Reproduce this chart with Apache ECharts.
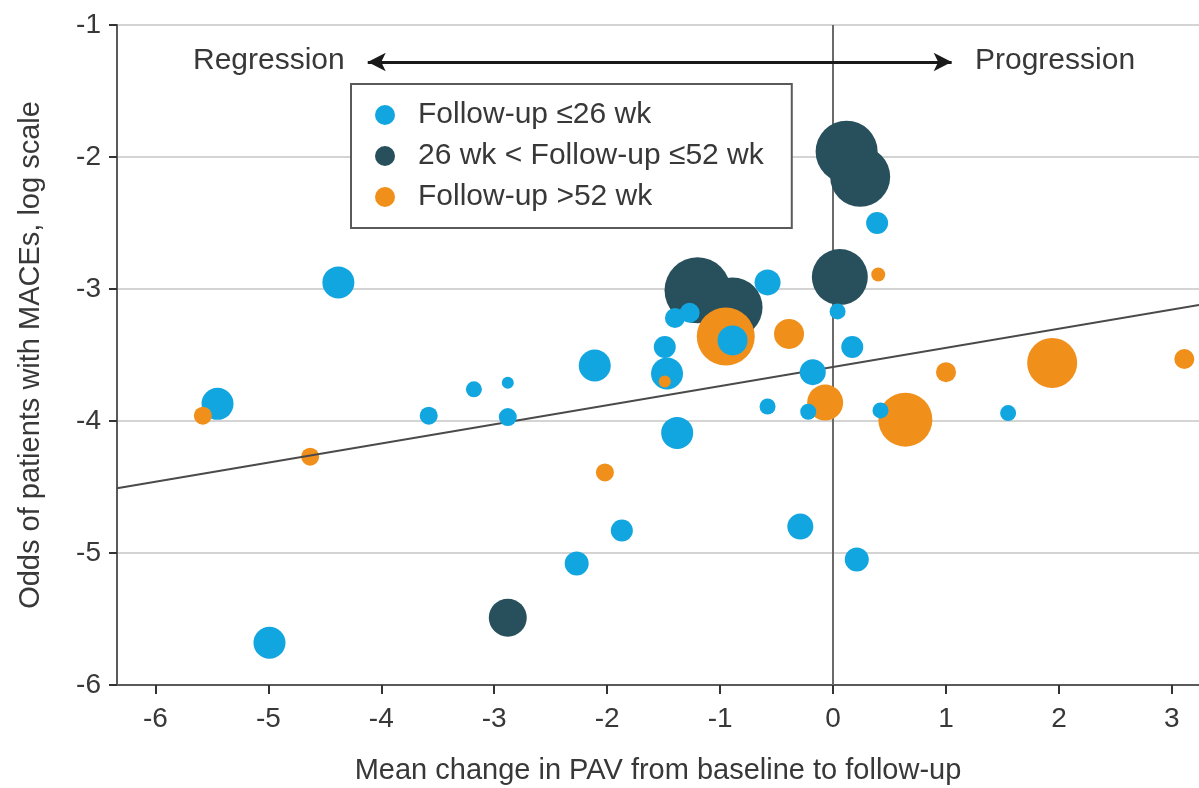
<!DOCTYPE html>
<html>
<head>
<meta charset="utf-8">
<script src="https://cdn.jsdelivr.net/npm/echarts@6/dist/echarts.min.js"></script>
<style>
  html, body { margin: 0; padding: 0; background: #ffffff; }
  #chart { width: 1199px; height: 788px; }
</style>
</head>
<body>
<div id="chart"></div>
<script>
// Each study: [mean change in PAV, log odds of MACE, relative marker size]
const shortFollowUp = [
  [-5.45, -3.87, 16], [-4.38, -2.95, 16], [-3.58, -3.96, 9], [-3.18, -3.76, 8],
  [-2.88, -3.71, 6], [-2.88, -3.97, 9], [-2.11, -3.58, 16], [-1.47, -3.64, 16],
  [-1.49, -3.44, 11], [-1.40, -3.22, 10], [-1.27, -3.18, 10], [-1.38, -4.09, 16],
  [-0.89, -3.39, 15], [-0.58, -2.95, 13], [-0.58, -3.89, 8], [-0.18, -3.63, 13],
  [-0.22, -3.93, 8], [0.04, -3.17, 8], [0.17, -3.44, 11], [0.39, -2.50, 11],
  [0.42, -3.92, 8], [1.55, -3.94, 8], [-1.87, -4.83, 11], [-2.27, -5.08, 12],
  [-4.99, -5.68, 16], [-0.29, -4.80, 13], [0.21, -5.05, 12]
];
const midFollowUp = [
  [-1.20, -3.01, 33], [-0.89, -3.14, 30], [0.12, -1.96, 31], [0.24, -2.15, 30],
  [0.06, -2.91, 28], [-2.88, -5.49, 19]
];
const longFollowUp = [
  [-4.63, -4.27, 9], [-2.02, -4.39, 9], [-0.95, -3.36, 29], [-0.39, -3.34, 15],
  [-0.07, -3.86, 18], [0.40, -2.89, 7], [0.64, -3.99, 27], [1.00, -3.63, 10],
  [1.94, -3.56, 25], [3.11, -3.53, 10]
];
// long follow-up studies that sit in front of the short follow-up markers
const longFollowUpFront = [
  [-5.58, -3.96, 9], [-1.49, -3.70, 6]
];

const seriesNames = ['Follow-up \u226426 wk', '26 wk < Follow-up \u226452 wk', 'Follow-up >52 wk'];
const xTicks = [-6, -5, -4, -3, -2, -1, 0, 1, 2, 3];
const xRange = [-6.34, 3.24];
const yRange = [-6, -1];

// meta-regression fit: log odds = intercept + slope * change in PAV
const fitIntercept = -3.59;
const fitSlope = 0.145;

const colors = { short: '#12a6e0', mid: '#27505c', long: '#f0901b' };
const textColor = '#383838';
const FONT = "'Liberation Sans', Arial, sans-serif";

const chart = echarts.init(document.getElementById('chart'));

const sizeOf = d => d[2] * 2;

function bubbles(name, data, color, z) {
  return {
    name, type: 'scatter', data, z,
    symbolSize: sizeOf,
    itemStyle: { color, opacity: 1 },
    emphasis: { disabled: true }
  };
}

const fitLine = [
  [{ coord: [xRange[0], fitIntercept + fitSlope * xRange[0]] },
   { coord: [xRange[1], fitIntercept + fitSlope * xRange[1]] }]
];

chart.setOption({
  animation: false,
  backgroundColor: '#ffffff',
  textStyle: { fontFamily: FONT, color: textColor },
  grid: { left: 117, right: 0, top: 25, bottom: 103, containLabel: false, outerBoundsMode: 'none' },
  legend: {
    data: seriesNames,
    orient: 'vertical',
    left: 351, top: 84,
    padding: [16, 28, 16, 24],
    itemGap: 11,
    itemWidth: 20, itemHeight: 20,
    icon: 'circle',
    borderColor: '#5a5a5a', borderWidth: 2,
    backgroundColor: '#ffffff',
    textStyle: { fontSize: 30, color: textColor, fontFamily: FONT, padding: [0, 0, 0, 18], lineHeight: 30 },
    selectedMode: false
  },
  xAxis: {
    type: 'value',
    min: xRange[0], max: xRange[1],
    name: 'Mean change in PAV from baseline to follow-up',
    nameLocation: 'middle', nameGap: 71,
    nameTextStyle: { fontSize: 29, color: textColor, fontFamily: FONT },
    axisLine: { show: true, onZero: false, lineStyle: { color: '#5a5a5a', width: 2 } },
    axisTick: { show: true, customValues: xTicks, length: 9, lineStyle: { color: '#333', width: 2 } },
    axisLabel: { customValues: xTicks, fontSize: 28, color: textColor, margin: 20, fontFamily: FONT },
    splitLine: { show: false }
  },
  yAxis: {
    type: 'value',
    min: yRange[0], max: yRange[1], interval: 1,
    name: 'Odds of patients with MACEs, log scale',
    nameLocation: 'middle', nameGap: 72, nameRotate: 90,
    nameTextStyle: { fontSize: 29, color: textColor, fontFamily: FONT },
    axisLine: { show: true, onZero: false, lineStyle: { color: '#5a5a5a', width: 2 } },
    axisTick: { show: true, length: 8, lineStyle: { color: '#333', width: 2 } },
    axisLabel: { fontSize: 28, color: textColor, margin: 16, fontFamily: FONT },
    splitLine: { show: true, lineStyle: { color: '#d4d4d4', width: 2 } }
  },
  series: [
    Object.assign(bubbles(seriesNames[1], midFollowUp, colors.mid, 3), {
      markLine: {
        silent: true, symbol: 'none', z: 1,
        label: { show: false },
        data: [
          { xAxis: 0, lineStyle: { color: '#6a6a6a', width: 2, type: 'solid' } }
        ]
      }
    }),
    bubbles(seriesNames[2], longFollowUp, colors.long, 4),
    Object.assign(bubbles(seriesNames[0], shortFollowUp, colors.short, 5), {
      markLine: {
        silent: true, symbol: 'none',
        label: { show: false },
        lineStyle: { color: '#4a4a4a', width: 2, type: 'solid' },
        data: fitLine
      }
    }),
    bubbles(seriesNames[2], longFollowUpFront, colors.long, 6),
    {
      // direction arrow between the two annotations
      type: 'line', data: [], z: 7,
      markLine: {
        silent: true,
        symbol: ['arrow', 'arrow'], symbolSize: [14, 18],
        label: { show: false },
        lineStyle: { color: '#1a1a1a', width: 3, type: 'solid' },
        data: [[{ coord: [-4.12, -1.28] }, { coord: [1.05, -1.28] }]]
      }
    }
  ],
  graphic: [
    { type: 'text', left: 193, top: 46,
      style: { text: 'Regression', fontSize: 30, fontFamily: FONT, fill: textColor } },
    { type: 'text', left: 975, top: 46,
      style: { text: 'Progression', fontSize: 30, fontFamily: FONT, fill: textColor } }
  ]
});
</script>
</body>
</html>
